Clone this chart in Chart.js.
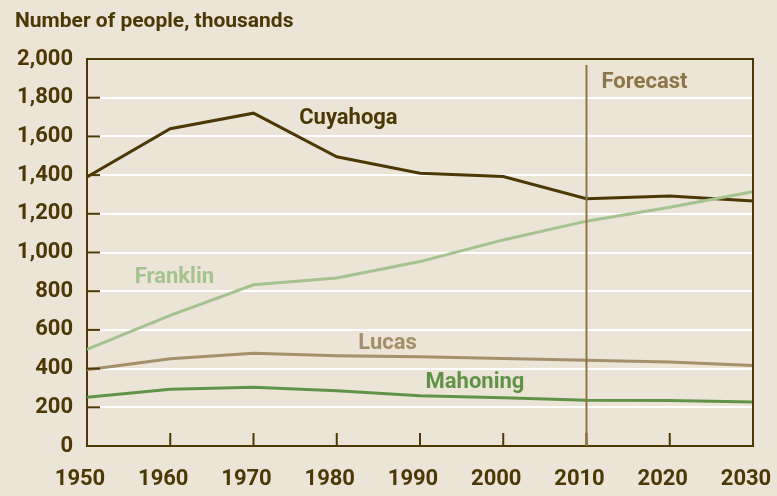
<!DOCTYPE html>
<html lang="en">
<head>
  <meta charset="UTF-8">
  <title>Population by county, Ohio</title>
  <script src="https://cdn.jsdelivr.net/npm/chart.js"></script>
  <style>
    body {
      margin: 0;
      background: #ece4d7;
      font-family: Roboto, Arial, sans-serif;
    }
    .chart-container {
      position: relative;
      width: 777px;
      height: 496px;
    }
  </style>
</head>
<body>
  <div class="chart-container">
    <canvas id="popChart"></canvas>
  </div>

  <script>
    // Data (thousands of people)
    const years = [1950, 1960, 1970, 1980, 1990, 2000, 2010, 2020, 2030];
    const cuyahoga = [1390, 1640, 1720, 1495, 1410, 1393, 1278, 1292, 1266];
    const franklin = [500, 675, 833, 868, 953, 1065, 1162, 1234, 1314];
    const lucas = [394, 451, 479, 467, 461, 452, 443, 434, 416];
    const mahoning = [252, 293, 303, 286, 260, 249, 236, 235, 227];
    const forecastYear = 2010;

    const dark = '#4c3805';
    const forecastColor = '#8d7548';

    // series name, text colour, label anchor in data units
    const seriesLabels = [
      { text: 'Cuyahoga', color: dark, x: 1981.4, y: 1690 },
      { text: 'Franklin', color: '#a4c38e', x: 1960.5, y: 871 },
      { text: 'Lucas', color: '#a38f6a', x: 1986.1, y: 531 },
      { text: 'Mahoning', color: '#5f9448', x: 1996.6, y: 330 }
    ];

    const pairs = (vals) => years.map((y, i) => ({ x: y, y: vals[i] }));

    const decorPlugin = {
      id: 'decor',
      afterDatasetsDraw(chart) {
        const { ctx, chartArea, scales } = chart;
        const xs = scales.x, ys = scales.y;
        ctx.save();

        // frame top and right
        ctx.strokeStyle = dark;
        ctx.lineWidth = 2;
        ctx.beginPath();
        ctx.moveTo(chartArea.left, chartArea.top);
        ctx.lineTo(chartArea.right, chartArea.top);
        ctx.lineTo(chartArea.right, chartArea.bottom);
        ctx.stroke();

        // inner y ticks
        ys.ticks.forEach(t => {
          if (t.value <= 0 || t.value >= 2000) return;
          const py = ys.getPixelForValue(t.value);
          ctx.beginPath();
          ctx.moveTo(chartArea.left, py);
          ctx.lineTo(chartArea.left + 13, py);
          ctx.stroke();
        });
        // inner x ticks
        xs.ticks.forEach(t => {
          if (t.value <= 1950 || t.value >= 2030) return;
          const px = xs.getPixelForValue(t.value);
          ctx.beginPath();
          ctx.moveTo(px, chartArea.bottom);
          ctx.lineTo(px, chartArea.bottom - 13);
          ctx.stroke();
        });

        // forecast divider
        const fx = xs.getPixelForValue(forecastYear);
        ctx.strokeStyle = forecastColor;
        ctx.lineWidth = 2;
        ctx.beginPath();
        ctx.moveTo(fx, chartArea.top + 6);
        ctx.lineTo(fx, chartArea.bottom);
        ctx.stroke();

        ctx.font = 'bold 22px Roboto';
        ctx.textBaseline = 'middle';
        ctx.fillStyle = forecastColor;
        ctx.textAlign = 'left';
        ctx.fillText('Forecast', fx + 15, ys.getPixelForValue(1880));

        // series labels
        ctx.textAlign = 'center';
        seriesLabels.forEach(l => {
          ctx.fillStyle = l.color;
          ctx.fillText(l.text, xs.getPixelForValue(l.x), ys.getPixelForValue(l.y));
        });

        // title
        ctx.font = 'bold 21px Roboto';
        ctx.fillStyle = dark;
        ctx.textAlign = 'left';
        ctx.textBaseline = 'alphabetic';
        ctx.fillText('Number of people, thousands', 15, 27);
        ctx.restore();
      }
    };

    const line = (vals, color) => ({
      data: pairs(vals),
      borderColor: color,
      borderWidth: 3,
      pointRadius: 0,
      tension: 0,
      fill: false
    });

    new Chart(document.getElementById('popChart'), {
      type: 'line',
      data: {
        datasets: [
          line(franklin, '#a4c38e'),
          line(lucas, '#a38f6a'),
          line(mahoning, '#5f9448'),
          line(cuyahoga, dark)
        ]
      },
      options: {
        responsive: true,
        maintainAspectRatio: false,
        animation: false,
        layout: { padding: { top: 59, right: 24, left: 0, bottom: 0 } },
        plugins: {
          legend: { display: false },
          tooltip: { enabled: false }
        },
        scales: {
          x: {
            type: 'linear',
            min: 1950,
            max: 2030,
            ticks: {
              stepSize: 10,
              color: dark,
              font: { family: 'Roboto', weight: 'bold', size: 22 },
              padding: 20,
              labelOffset: -7,
              callback: v => String(v)
            },
            grid: { display: false, drawTicks: false },
            border: { display: true, color: dark, width: 2 },
            afterFit: s => { s.height = 50; s.paddingLeft = 0; s.paddingRight = 0; }
          },
          y: {
            min: 0,
            max: 2000,
            ticks: {
              stepSize: 200,
              color: dark,
              font: { family: 'Roboto', weight: 'bold', size: 22 },
              padding: 14,
              callback: v => v.toLocaleString('en-US')
            },
            grid: { color: '#ffffff', lineWidth: 2, drawTicks: false },
            border: { display: true, color: dark, width: 2 },
            afterFit: s => { s.width = 87; }
          }
        }
      },
      plugins: [decorPlugin]
    });
  </script>
</body>
</html>
